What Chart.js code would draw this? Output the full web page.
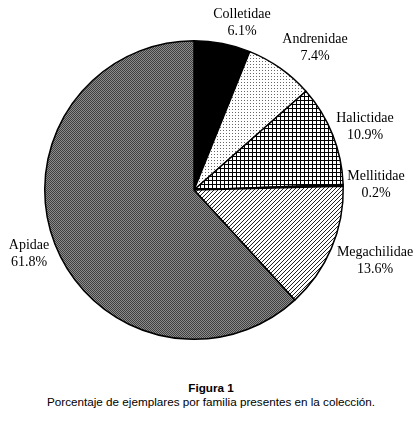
<!DOCTYPE html>
<html>
<head>
<meta charset="utf-8">
<script src="https://cdn.jsdelivr.net/npm/chart.js@4.4.0/dist/chart.umd.min.js"></script>
<style>
  html, body { margin: 0; padding: 0; background: #fff; }
  #wrap { position: relative; width: 416px; height: 425px; }
  #caption {
    position: absolute; left: 0; top: 381px; width: 422px;
    text-align: center; font-family: "Liberation Sans", Arial, sans-serif;
    font-size: 11.7px; line-height: 14px; color: #000;
  }
  #caption b { font-weight: bold; }
</style>
</head>
<body>
<div id="wrap">
  <canvas id="pieChart" width="416" height="370"></canvas>
  <div id="caption"><b>Figura 1</b><br>Porcentaje de ejemplares por familia presentes en la colección.</div>
</div>
<script>
const families = ['Colletidae', 'Andrenidae', 'Halictidae', 'Mellitidae', 'Megachilidae', 'Apidae'];
const percents = [6.1, 7.4, 10.9, 0.2, 13.6, 61.8];
const percentLabels = ['6.1%', '7.4%', '10.9%', '0.2%', '13.6%', '61.8%'];

// build small fill patterns (like the old b/w print)
function makePattern(size, draw) {
    const c = document.createElement('canvas');
    c.width = size;
    c.height = size;
    const g = c.getContext('2d');
    draw(g);
    return g.createPattern(c, 'repeat');
}

const ctx = document.getElementById('pieChart').getContext('2d');

const dots = makePattern(3, g => {
    g.fillStyle = '#fff'; g.fillRect(0, 0, 3, 3);
    g.fillStyle = '#666'; g.fillRect(1, 1, 1, 1);
});
const grid = makePattern(4, g => {
    g.fillStyle = '#fff'; g.fillRect(0, 0, 4, 4);
    g.fillStyle = '#000'; g.fillRect(0, 0, 4, 1); g.fillRect(0, 0, 1, 4);
});
const hatch = makePattern(4, g => {
    g.fillStyle = '#fff'; g.fillRect(0, 0, 4, 4);
    g.fillStyle = '#222';
    for (let i = 0; i < 4; i++) g.fillRect(i, 3 - i, 1, 1);
});
const stipple = makePattern(2, g => {
    g.fillStyle = '#8c8c8c'; g.fillRect(0, 0, 2, 2);
    g.fillStyle = '#404040'; g.fillRect(0, 0, 1, 1); g.fillRect(1, 1, 1, 1);
});

const fills = ['#000', dots, grid, '#000', hatch, stipple];

// where each label sits, relative to the pie centre
const labelSpots = [[48, -167], [121, -142], [171, -63], [182, -5], [181, 71], [-165, 64]];

const outsideLabels = {
    id: 'outsideLabels',
    afterDatasetsDraw(chart) {
        const c = chart.ctx;
        const meta = chart.getDatasetMeta(0);
        c.save();
        c.fillStyle = '#000';
        c.font = '14px "Liberation Serif", "Times New Roman", serif';
        c.textAlign = 'center';
        c.textBaseline = 'middle';
        meta.data.forEach((arc, i) => {
            const x = arc.x + labelSpots[i][0];
            const y = arc.y + labelSpots[i][1];
            c.fillText(families[i], x, y - 8.5);
            c.fillText(percentLabels[i], x, y + 8.5);
        });
        c.restore();
    }
};

new Chart(ctx, {
    type: 'pie',
    data: {
        labels: families,
        datasets: [{
            data: percents,
            backgroundColor: fills,
            borderColor: '#000',
            borderWidth: 1.5
        }]
    },
    options: {
        responsive: false,
        animation: false,
        layout: { padding: { left: 44, right: 72, top: 40, bottom: 30 } },
        plugins: {
            legend: { display: false },
            tooltip: { enabled: false }
        }
    },
    plugins: [outsideLabels]
});
</script>
</body>
</html>
